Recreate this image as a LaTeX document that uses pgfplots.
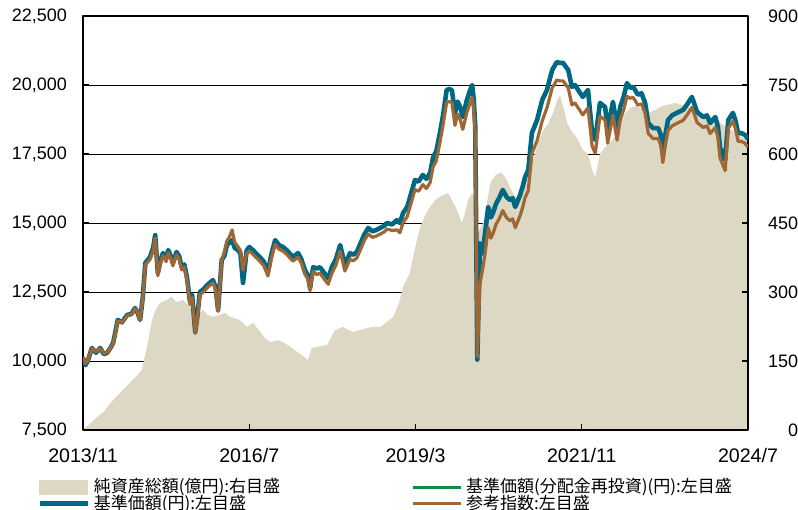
\documentclass[border=0pt]{standalone}
\usepackage{fontspec}
\setmainfont{Liberation Sans}
\newfontfamily\jp{Noto Sans CJK JP}
\usepackage{pgfplots}
\pgfplotsset{compat=1.18}
\usepackage{pgfplotstable}

\definecolor{navc}{RGB}{0,104,130}
\definecolor{idxc}{RGB}{160,102,52}
\definecolor{grnc}{RGB}{20,140,60}
\definecolor{areac}{RGB}{221,216,196}

\pgfplotsset{
  linelegend/.style={legend image code/.code={\draw[##1] (0bp,0bp) -- (24bp,0bp);}},
  arealegend/.style={legend image code/.code={\fill[areac] (0bp,-3.5bp) rectangle (24bp,3.5bp);}},
}

% month index: 0 = 2013/11, 128 = 2024/7
\pgfplotstableread{
m nav idx
0 10100 10150
0.5 9850 9900
1 10050 10050
1.7 10470 10450
2.5 10300 10330
3.3 10470 10450
4 10250 10280
4.6 10290 10300
5.2 10450 10450
5.8 10650 10620
6.7 11490 11450
7.5 11400 11400
8.5 11670 11650
9.3 11700 11680
10 11920 11900
10.5 11750 11750
11 11490 11500
11.5 12300 12250
12 13550 13480
12.9 13770 13680
13.5 14100 14000
13.9 14560 14460
14.4 13190 13090
15 13700 13600
15.4 13910 13810
16 13700 13600
16.4 14020 13920
17 13750 13650
17.3 13550 13450
18 13950 13850
18.5 13800 13700
19 13400 13300
19.5 13500 13400
20 13040 12940
20.6 12140 12040
21 12400 12300
21.6 11050 11000
22 11600 11500
22.5 12500 12400
23.2 12600 12500
23.9 12750 12650
24.5 12850 12750
25 12930 12830
25.5 12700 12600
26 11850 11800
26.7 13660 13650
27.2 13800 13950
27.7 14200 14350
28.2 14300 14500
28.7 14380 14750
29.2 14100 14300
29.8 14020 14150
30.3 13900 14000
30.8 12830 13300
31.5 14000 13900
32 14130 13980
32.7 14020 13870
33.3 13900 13750
34 13770 13620
34.8 13600 13450
35.6 13230 13080
36.3 13900 13750
37 14380 14230
37.7 14200 14050
38.5 14130 13980
39.3 14000 13850
40 13850 13700
40.4 13770 13620
41.4 13910 13760
42 13700 13550
42.7 13300 13150
43.3 13100 12950
43.7 12640 12550
44.3 13400 13250
45 13350 13130
45.6 13400 13180
46.4 13200 12980
47.2 13000 12780
47.9 13400 13180
48.7 13700 13480
49.5 14200 13980
50.4 13480 13260
51.4 13910 13690
52 13850 13630
52.7 13950 13730
53.5 14300 14080
54.2 14600 14380
54.9 14820 14600
55.7 14700 14480
56.5 14750 14530
57.2 14820 14600
58 14900 14680
58.5 15000 14780
59.5 14950 14730
60.4 15100 14750
61 15000 14650
61.6 15360 15010
62.4 15580 15230
63.2 16100 15750
63.9 16560 16210
64.6 16500 16150
65.4 16740 16390
66.1 16600 16250
66.8 16810 16460
67.4 17390 17040
68 17600 17250
68.7 18260 17910
69.3 18900 18550
70 19820 19370
70.5 19850 19400
71 19820 19370
71.6 18990 18540
72.1 19400 18950
72.6 19200 18750
73.1 18840 18390
73.9 19460 19010
74.5 19800 19350
74.9 20000 19550
75.2 19500 19100
75.5 18500 18200
75.9 10050 10150
76.4 14270 12800
76.9 13900 13300
77.4 14640 13900
78 15580 14830
78.5 15200 14450
78.9 15360 14610
79.5 15700 14950
80.1 15900 15150
80.8 16200 15450
81.5 15950 15200
82.2 15830 15080
82.7 15900 15150
83.2 15580 14830
84.1 16000 15250
84.6 16300 15550
85.1 16670 15920
85.7 16920 16170
86.4 18260 17510
87.4 18730 17980
88.4 19460 18710
89.3 19820 19170
90.3 20540 19890
91.2 20830 20180
91.8 20800 20150
92.4 20800 20150
93.4 20540 19890
94.1 19930 19280
94.7 20000 19350
95.3 19820 19170
96.2 19570 18920
97.2 19820 19170
98 18260 17780
98.6 18010 17530
99.5 19350 18870
100.5 19200 18720
101 18370 17890
102 19390 18910
102.8 18480 18000
103.4 19200 18720
104.1 19600 19120
104.7 20070 19590
105.3 19900 19520
105.9 19930 19550
106.8 19650 19270
107.5 19700 19320
108.2 19350 18970
108.8 18620 18240
109.7 18440 18060
110.7 18440 18060
111.2 18200 17820
111.6 17570 17190
112.1 18200 17820
112.6 18730 18350
113.4 18900 18520
114.3 18990 18610
115.5 19100 18720
116.3 19300 18920
117.2 19570 19190
117.7 19300 18920
118.2 19020 18640
119.4 18840 18460
120.1 18900 18520
120.7 18620 18240
121.7 18840 18460
122.2 18500 18120
122.6 17750 17370
123.6 17280 16900
124.2 18730 18430
125.1 18990 18690
125.6 18700 18400
126.1 18260 17960
126.8 18250 17950
127.4 18190 17890
128 18050 17750
}\lines

\pgfplotstableread{
m v
0 3
1 10
2.7 28
4 40
5.8 65
7.5 85
9 102
10.5 120
11.3 130
12.3 180
13.3 239
14 262
14.8 276
16.2 283
17 290
18 278
19.2 283
20 275
20.6 267
21.2 250
21.9 243
22.5 255
23.1 261
24 250
25 246
26.4 250
27.3 255
28.3 246
29.2 243
30.2 239
31.6 224
32.7 233
34 215
35 200
36 191
37.5 195
38.5 191
40 180
41.2 170
42.5 160
43.3 152
44 178
45.5 182
47 185
48.5 217
50 224
51 218
52 213
53.5 218
54.7 222
56 225
57.2 224
58.5 235
59.7 246
60.8 275
61.6 311
62.9 341
64 400
64.9 441
66 470
66.8 485
67.8 500
68.7 507
69.5 512
70.3 515
71 500
72 478
72.9 450
73.5 470
74.1 500
74.9 515
75.5 505
76 430
77 450
78.5 540
79.5 555
80.5 560
81.5 545
82.5 520
83.5 505
84.5 520
85.5 550
86.6 587
87.5 620
88.6 652
89.5 665
90.5 690
91.2 715
91.8 728
92.5 700
93.2 667
94 650
95.1 635
96.2 609
97.2 600
98 565
98.6 550
99.5 600
100.5 615
101.4 624
102.5 640
103.4 667
104.5 690
105.3 700
106.5 705
108 695
109 690
110.5 698
111.6 705
112.6 707
114 711
115.5 705
117 700
118.5 690
120 685
121.5 678
123 665
124.5 655
126 645
127 635
128 630
}\assets

\begin{document}
\begin{tikzpicture}
% right axis: net assets (area) and grid
\begin{axis}[
  at={(0,0)}, anchor=south west,
  scale only axis, width=332.5bp, height=207bp,
  xmin=0, xmax=128, ymin=0, ymax=900,
  axis line style={draw=none},
  xtick=\empty,
  ytick={0,150,...,900},
  ytick pos=right, yticklabel pos=right,
  major tick length=0pt,
  ymajorgrids, grid style={black, line width=0.5bp},
  scaled y ticks=false,
  /pgf/number format/assume math mode=true,
  yticklabel style={font=\fontsize{9bp}{10bp}\selectfont, anchor=west, text width=15bp, align=right, xshift=6.5bp},
]
\addplot[fill=areac, draw=none] table[x=m, y=v]{\assets} \closedcycle;
\end{axis}
% left axis: lines, frame, ticks, legend
\begin{axis}[
  at={(0,0)}, anchor=south west,
  scale only axis, width=332.5bp, height=207bp,
  xmin=0, xmax=128, ymin=7500, ymax=22500,
  axis line style={black, line width=0.6bp},
  xtick={0,32,64,96,128},
  xticklabels={2013/11,2016/7,2019/3,2021/11,2024/7},
  xtick pos=bottom,
  ytick={7500,10000,...,22500},
  ytick pos=both, yticklabel pos=left,
  tick align=inside, major tick length=3bp,
  tick style={black, line width=0.6bp},
  scaled y ticks=false,
  /pgf/number format/assume math mode=true,
  /pgf/number format/1000 sep={,},
  yticklabel style={font=\fontsize{9bp}{10bp}\selectfont, xshift=-4.5bp},
  xticklabel style={font=\fontsize{9.8bp}{11bp}\selectfont, yshift=-5.5bp},
  legend columns=2,
  legend cell align=left,
  legend style={at={(-0.0692,-0.1063)}, anchor=north west, draw=none, fill=none,
    inner sep=0pt, row sep=-4.5bp,
    font=\jp\fontsize{8.5bp}{10bp}\selectfont},
  line join=round,
]
\addlegendimage{arealegend}
\addlegendentry{\makebox[156.5bp][l]{純資産総額(億円):右目盛}}
\addplot[grnc, line width=1.5bp, linelegend] table[x=m, y=nav]{\lines};
\addlegendentry{基準価額(分配金再投資)(円):左目盛}
\addplot[navc, line width=2.3bp, linelegend] table[x=m, y=nav]{\lines};
\addlegendentry{\makebox[156.5bp][l]{基準価額(円):左目盛}}
\addplot[idxc, line width=1.6bp, linelegend] table[x=m, y=idx]{\lines};
\addlegendentry{参考指数:左目盛}
\end{axis}
\pgfresetboundingbox
\path[use as bounding box] (-41.5bp,-40bp) rectangle (357.5bp,215bp);
\end{tikzpicture}
\end{document}
